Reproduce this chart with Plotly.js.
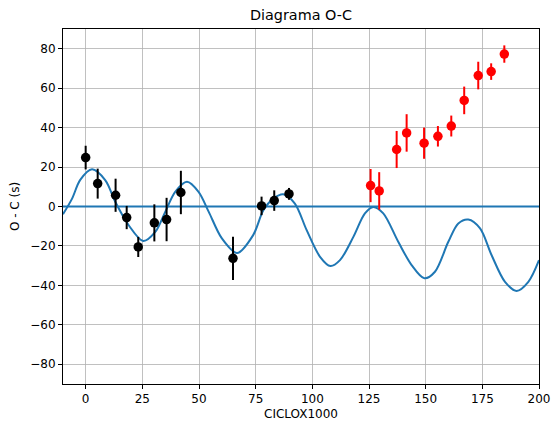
<!DOCTYPE html>
<html>
<head>
<meta charset="utf-8">
<script src="https://cdn.plot.ly/plotly-3.0.1.min.js"></script>
<style>
  html, body { margin: 0; padding: 0; background: #ffffff; }
  #chart { width: 552px; height: 425px; }
</style>
</head>
<body>
<div id="chart"></div>
<script>
// Observed O-C residuals, first set (black)
const cyclesA = [0, 5.3, 13.2, 18.1, 23.2, 30.3, 35.7, 42.0, 65.0, 77.6, 83.2, 89.7];
const ocA     = [24.8, 11.6, 5.7, -5.6, -20.5, -8.3, -6.6, 7.1, -26.3, 0.3, 3.0, 6.4];
const errA    = [6.0, 7.6, 8.4, 5.9, 5.1, 9.4, 11.0, 11.0, 11.0, 4.7, 5.2, 3.0];

// Observed O-C residuals, second set (red)
const cyclesB = [125.7, 129.5, 137.2, 141.6, 149.3, 155.4, 161.3, 167.0, 173.2, 178.9, 184.7];
const ocB     = [10.6, 7.9, 28.9, 37.3, 32.1, 35.6, 40.8, 53.8, 66.4, 68.4, 77.3];
const errB    = [8.4, 9.5, 9.4, 9.5, 7.9, 5.2, 5.3, 7.0, 7.0, 4.2, 4.4];

// Fitted model curve, sampled along the cycle axis
const modelX = [-10.0, -6.0, -2.4, 2.8, 8.7, 13.1, 19.0, 25.4, 30.7, 35.1, 39.5, 44.7, 49.8,
                54.3, 60.1, 66.8, 73.9, 78.4, 82.8, 87.2, 92.3, 97.5, 103.4, 108.0, 112.2,
                118.1, 123.2, 126.9, 131.3, 137.9, 143.8, 149.4, 154.1, 160.0, 164.4, 168.8,
                174.0, 179.1, 185.0, 190.1, 195.3, 200.0];
const modelY = [-3.9, 4.0, 13.5, 18.9, 13.3, 2.3, -9.5, -17.5, -12.9, -2.7, 7.4, 12.5, 7.4,
                -2.7, -16.2, -23.6, -14.5, -1.9, 4.0, 6.2, 1.5, -12.0, -25.5, -30.2, -27.2,
                -15.4, -3.5, -0.2, -3.5, -17.9, -29.7, -36.4, -33.1, -17.9, -8.6, -6.6,
                -11.1, -24.7, -38.2, -42.8, -38.2, -27.2];

// Reference level O-C = 0
const refX = [-10, 200];
const refY = [0, 0];

// Axis ticks
const xTicks = [0, 25, 50, 75, 100, 125, 150, 175, 200];
const yTicks = [-80, -60, -40, -20, 0, 20, 40, 60, 80];

const blue = '#1f77b4';

const traces = [
  { x: refX, y: refY, mode: 'lines', line: { color: blue, width: 2 }, hoverinfo: 'skip' },
  { x: modelX, y: modelY, mode: 'lines',
    line: { color: blue, width: 2, shape: 'spline', smoothing: 0.9 } },
  { x: cyclesA, y: ocA, mode: 'markers',
    marker: { color: 'black', size: 9.5 },
    error_y: { type: 'data', array: errA, visible: true, color: 'black', thickness: 2, width: 0 } },
  { x: cyclesB, y: ocB, mode: 'markers',
    marker: { color: 'red', size: 9.5 },
    error_y: { type: 'data', array: errB, visible: true, color: 'red', thickness: 2, width: 0 } }
];

const font = { family: 'DejaVu Sans, sans-serif', size: 12, color: '#000000' };

const layout = {
  width: 552,
  height: 425,
  showlegend: false,
  paper_bgcolor: '#ffffff',
  plot_bgcolor: '#ffffff',
  font: font,
  margin: { l: 63, r: 13, t: 29, b: 41, pad: 0 },
  title: {
    text: 'Diagrama O-C',
    font: { family: 'DejaVu Sans, sans-serif', size: 14.4, color: '#000000' },
    x: 0.5, xref: 'paper', xanchor: 'center',
    y: 1 - 15 / 425, yref: 'container', yanchor: 'middle'
  },
  xaxis: {
    range: [-10, 200],
    tickvals: xTicks,
    ticktext: xTicks.map(String),
    ticks: 'outside', ticklen: 4, tickwidth: 1, tickcolor: '#000000',
    showline: true, mirror: true, linecolor: '#000000', linewidth: 1,
    showgrid: true, gridcolor: '#b0b0b0', gridwidth: 0.8,
    zeroline: false,
    title: { text: 'CICLOX1000', font: font, standoff: 4 }
  },
  yaxis: {
    range: [-90, 90],
    tickvals: yTicks,
    ticks: 'outside', ticklen: 4, tickwidth: 1, tickcolor: '#000000',
    showline: true, mirror: true, linecolor: '#000000', linewidth: 1,
    showgrid: true, gridcolor: '#b0b0b0', gridwidth: 0.8,
    zeroline: false,
    title: { text: 'O - C (s)', font: font, standoff: 8 }
  }
};

Plotly.newPlot('chart', traces, layout, { displayModeBar: false, staticPlot: true });
</script>
</body>
</html>
